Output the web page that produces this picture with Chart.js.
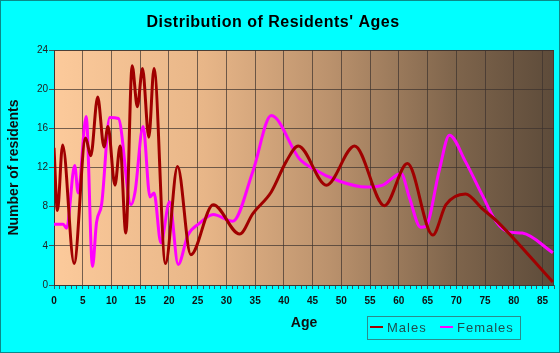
<!DOCTYPE html>
<html>
<head>
<meta charset="utf-8">
<script src="https://cdn.jsdelivr.net/npm/chart.js@4"></script>
<style>
  html, body { margin: 0; padding: 0; background: #00ffff; }
</style>
</head>
<body>
<canvas id="myChart" width="560" height="353"></canvas>
<script>
// values (age, residents)
const maleAges = [0, 0.6, 1.5, 3.5, 5.5, 6.4, 7.6, 8.7, 9.4, 10.6, 11.5, 12.5, 13.6, 14.5, 15.4, 16.5, 17.4, 19.4, 21.5, 23.8, 27.7, 32.3, 34.6, 37.8, 40.4, 42.5, 47.4, 52.3, 57.5, 61.5, 65.9, 68.2, 71.6, 74.5, 77.1, 86.8];
const maleCounts = [14.0, 7.6, 14.3, 2.2, 15.0, 13.2, 19.2, 14.1, 16.2, 10.2, 14.2, 5.3, 22.4, 18.2, 22.1, 15.1, 22.1, 2.2, 12.1, 3.1, 8.2, 5.2, 7.3, 9.5, 12.6, 14.2, 10.2, 14.2, 8.1, 12.4, 5.1, 8.2, 9.3, 7.8, 6.5, 0.3];

const femaleAges = [0, 1.6, 2.2, 3.6, 4.2, 5.6, 6.7, 7.4, 8.3, 9.7, 11.2, 13.4, 14.1, 15.5, 16.7, 17.4, 18.6, 20.1, 21.6, 23.3, 25.3, 27.7, 31.1, 34.6, 37.8, 42.7, 45.0, 49.7, 54.3, 57.2, 60.4, 61.8, 63.8, 64.7, 67.0, 68.8, 71.6, 74.5, 76.9, 79.2, 81.5, 86.8];
const femaleCounts = [6.2, 6.2, 5.8, 12.2, 9.4, 17.2, 1.9, 6.4, 8.3, 17.1, 17.0, 8.2, 9.5, 16.2, 9.0, 9.4, 4.3, 8.5, 2.1, 5.1, 6.3, 7.2, 6.5, 11.6, 17.3, 12.9, 11.9, 10.6, 10.0, 10.2, 11.4, 9.0, 5.9, 6.0, 11.6, 15.3, 12.6, 9.2, 6.5, 5.4, 5.3, 3.3];

const seriesNames = ['Males', 'Females'];
const xMax = 87;
const xLabelStep = 5;
const yMax = 24;
const yStep = 4;

const gridColor = 'rgba(60,50,45,0.7)';
const fontFam = '"Liberation Sans", Arial, sans-serif';

function toPoints(xs, ys) {
  return xs.map((x, i) => ({ x: x, y: ys[i] }));
}

// background, plot gradient, frame
const backdrop = {
  id: 'backdrop',
  beforeDraw(chart) {
    const { ctx, chartArea: a, width, height } = chart;
    ctx.save();
    ctx.fillStyle = '#00ffff';
    ctx.fillRect(0, 0, width, height);
    const g = ctx.createLinearGradient(a.left, 0, a.right, 0);
    g.addColorStop(0, '#fcca9b');
    g.addColorStop(0.3, '#e8b688');
    g.addColorStop(0.55, '#bb926d');
    g.addColorStop(0.8, '#7f654c');
    g.addColorStop(1, '#5d4b3a');
    ctx.fillStyle = g;
    ctx.fillRect(a.left, a.top, a.right - a.left, a.bottom - a.top);
    ctx.restore();
  },
  beforeDatasetsDraw(chart) {
    const { ctx, chartArea: a } = chart;
    ctx.save();
    ctx.strokeStyle = gridColor;
    ctx.lineWidth = 1;
    ctx.strokeRect(a.left + 0.5, a.top + 0.5, a.right - a.left - 1, a.bottom - a.top);
    ctx.restore();
  },
  afterDraw(chart) {
    const { ctx, width, height } = chart;
    ctx.save();
    // title
    ctx.fillStyle = '#000';
    ctx.font = 'bold 16px ' + fontFam;
    ctx.letterSpacing = '0.5px';
    ctx.textAlign = 'center';
    ctx.textBaseline = 'middle';
    ctx.fillText("Distribution of Residents' Ages", 273, 23);

    // legend
    ctx.letterSpacing = '1px';
    ctx.strokeStyle = '#2a8c8c';
    ctx.lineWidth = 1;
    ctx.strokeRect(367.5, 316.5, 153, 23);
    ctx.font = '13px ' + fontFam;
    ctx.textAlign = 'left';
    const items = [[370, 387], [440, 457]];
    chart.data.datasets.forEach((ds, i) => {
      ctx.strokeStyle = ds.borderColor;
      ctx.lineWidth = 2;
      ctx.beginPath();
      ctx.moveTo(items[i][0], 327);
      ctx.lineTo(items[i][0] + 13, 327);
      ctx.stroke();
      ctx.fillStyle = '#1d4f4f';
      ctx.fillText(ds.label, items[i][1], 328);
    });

    // outer border
    ctx.letterSpacing = '0px';
    ctx.strokeStyle = '#0a8a8a';
    ctx.lineWidth = 1;
    ctx.strokeRect(0.5, 0.5, width - 1, height - 1);
    ctx.restore();
  }
};

const ctx = document.getElementById('myChart');
const myChart = new Chart(ctx, {
  type: 'line',
  data: {
    datasets: [{
      label: seriesNames[0],
      data: toPoints(maleAges, maleCounts),
      borderColor: '#a00000',
      borderWidth: 3,
      pointRadius: 0,
      cubicInterpolationMode: 'monotone',
      fill: false
    }, {
      label: seriesNames[1],
      data: toPoints(femaleAges, femaleCounts),
      borderColor: '#ff00ff',
      borderWidth: 3,
      pointRadius: 0,
      cubicInterpolationMode: 'monotone',
      fill: false
    }]
  },
  options: {
    responsive: false,
    animation: false,
    layout: { padding: { top: 50, right: 5, bottom: 0, left: 0 } },
    plugins: {
      legend: { display: false },
      title: { display: false },
      tooltip: { enabled: false }
    },
    scales: {
      x: {
        type: 'linear',
        min: 0,
        max: xMax,
        afterFit(scale) { scale.height = 68; },
        border: { color: gridColor },
        grid: {
          color: c => (c.tick && c.tick.value % xLabelStep === 0 ? gridColor : 'rgba(0,0,0,0)'),
          tickColor: '#3a5a5a',
          tickLength: 4
        },
        ticks: {
          stepSize: 1,
          autoSkip: false,
          maxRotation: 0,
          padding: 6,
          color: '#111',
          font: { family: fontFam, size: 10, weight: 'bold' },
          callback: v => (v % xLabelStep === 0 && v <= 85 ? v : '')
        },
        title: {
          display: true,
          text: 'Age',
          color: '#111',
          font: { family: fontFam, size: 14, weight: 'bold' },
          padding: { top: 0, bottom: 21 }
        }
      },
      y: {
        min: 0,
        max: yMax,
        afterFit(scale) { scale.width = 54; },
        border: { color: gridColor },
        grid: {
          color: gridColor,
          tickColor: '#3a5a5a',
          tickLength: 5
        },
        ticks: {
          stepSize: yStep,
          padding: 1,
          color: '#222',
          font: { family: fontFam, size: 10 }
        },
        title: {
          display: true,
          text: 'Number of residents',
          color: '#111',
          font: { family: fontFam, size: 14, weight: 'bold' },
          padding: { top: 6, bottom: 0 }
        }
      }
    }
  },
  plugins: [backdrop]
});
</script>
</body>
</html>
